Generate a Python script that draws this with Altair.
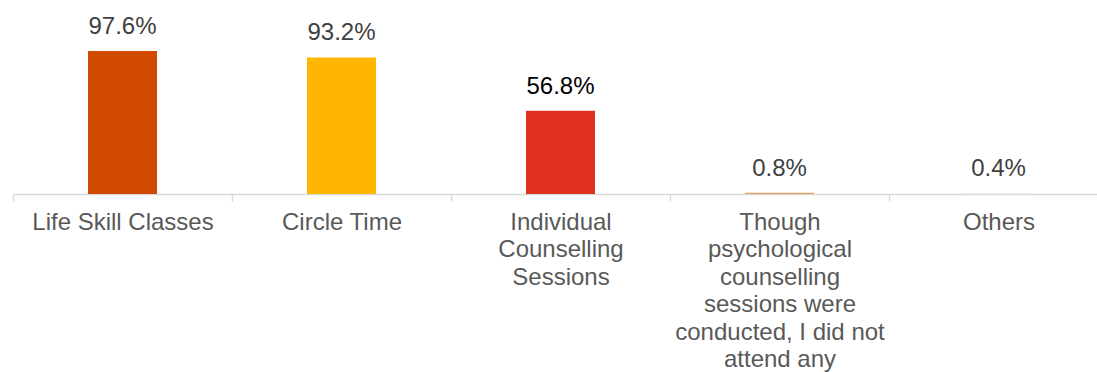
import altair as alt
import pandas as pd

categories = [
    "Life Skill Classes",
    "Circle Time",
    "Individual\nCounselling\nSessions",
    "Though\npsychological\ncounselling\nsessions were\nconducted, I did not\nattend any",
    "Others",
]
values = [97.6, 93.2, 56.8, 0.8, 0.4]
labels = ["97.6%", "93.2%", "56.8%", "0.8%", "0.4%"]
bar_colors = ["#D04A02", "#FFB600", "#E0301E", "#E3A15C", "#E0E0E0"]
label_colors = ["#404040", "#404040", "#000000", "#404040", "#404040"]

df = pd.DataFrame({
    "cat": categories,
    "val": values,
    "lab": labels,
    "lcol": label_colors,
})

FONT = "Liberation Sans"
FS = 24

x = alt.X(
    "cat:N",
    sort=categories,
    title=None,
    scale=alt.Scale(range=[0, 1095], paddingInner=0, paddingOuter=0),
    axis=alt.Axis(
        domainColor="#D9D9D9",
        domainWidth=1.5,
        tickColor="#D9D9D9",
        tickWidth=1.5,
        tickSize=7,
        tickBand="extent",
        labelAngle=0,
        labelFont=FONT,
        labelFontSize=FS,
        labelColor="#595959",
        labelPadding=9,
        labelLimit=0,
        labelLineHeight=27.5,
        labelExpr="split(datum.label, '\\n')",
    ),
)
y = alt.Y("val:Q", scale=alt.Scale(domain=[0, 100]), axis=None)

bars = alt.Chart(df).mark_bar(size=69).encode(
    x=x,
    y=y,
    color=alt.Color("cat:N", scale=alt.Scale(domain=categories, range=bar_colors), legend=None),
)

text = alt.Chart(df).mark_text(
    baseline="alphabetic", dy=-17, font=FONT, fontSize=FS
).encode(
    x=alt.X("cat:N", sort=categories),
    y=y,
    text="lab:N",
    color=alt.Color("lcol:N", scale=None),
)

chart = (
    alt.layer(bars, text)
    .properties(
        width=1084,
        height=146.5,
        background="white",
        autosize=alt.AutoSizeParams(type="none"),
        padding={"left": 13, "top": 47.5, "right": 0, "bottom": 178},
    )
    .configure_view(strokeWidth=0, stroke="transparent")
)

chart.save("out.html", embed_options={"renderer": "svg", "actions": False})
